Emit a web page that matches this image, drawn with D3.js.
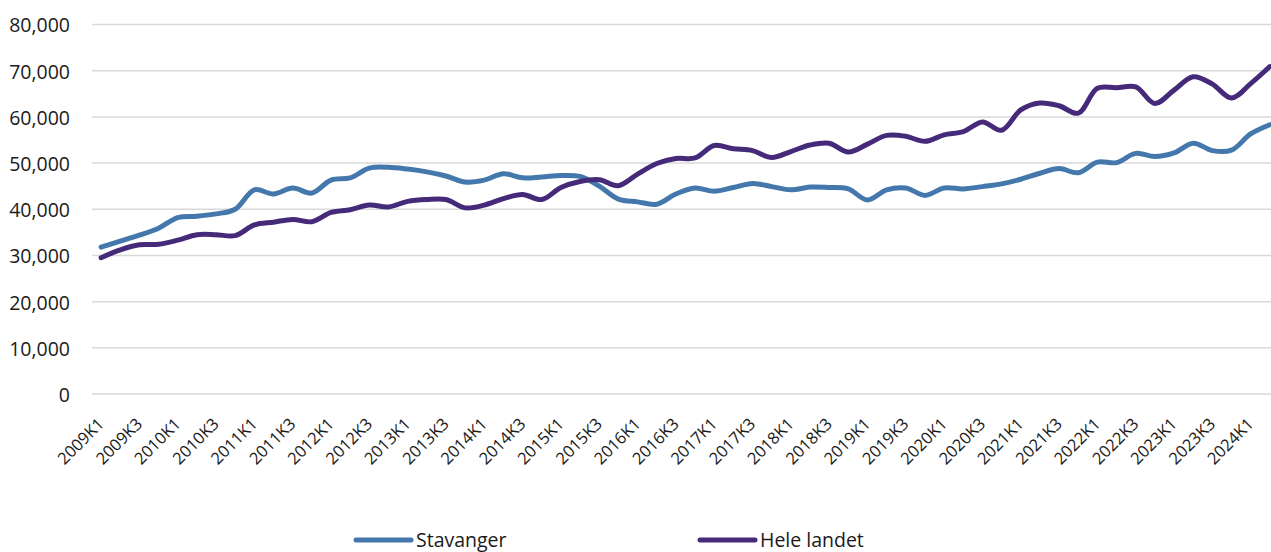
<!DOCTYPE html>
<html>
<head>
<meta charset="utf-8">
<script src="https://cdn.jsdelivr.net/npm/d3@7"></script>
<style>
  html, body { margin: 0; padding: 0; background: #fff; }
  svg { display: block; font-family: "Open Sans", "Noto Sans", sans-serif; }
</style>
</head>
<body>
<svg id="chart" width="1271" height="552"></svg>
<script>
// Quarters 2009K1 .. 2024K2
const quarters = [];
for (let y = 2009; y <= 2024; y++) {
  for (let q = 1; q <= 4; q++) {
    if (y === 2024 && q > 2) break;
    quarters.push(y + "K" + q);
  }
}

const stavanger = [
  31800, 33100, 34400, 35900, 38200, 38500, 39000, 40000,
  44200, 43300, 44600, 43500, 46300, 46800, 48900, 49100,
  48700, 48100, 47200, 45900, 46300, 47700, 46800, 47000,
  47300, 47100, 45000, 42200, 41600, 41100, 43300, 44600,
  43900, 44700, 45600, 44900, 44200, 44800, 44700, 44400,
  42000, 44200, 44600, 43000, 44600, 44400, 44900, 45500,
  46500, 47800, 48800, 47900, 50200, 50100, 52100, 51400,
  52200, 54300, 52700, 52800, 56300, 58300
];

const heleLandet = [
  29500, 31200, 32300, 32400, 33300, 34500, 34500, 34300,
  36600, 37200, 37800, 37300, 39300, 39900, 40900, 40500,
  41700, 42100, 42100, 40300, 40900, 42300, 43200, 42100,
  44700, 46000, 46400, 45100, 47600, 49900, 51000, 51100,
  53800, 53100, 52700, 51200, 52500, 53900, 54300, 52400,
  54100, 56000, 55800, 54700, 56100, 56800, 58900, 57100,
  61500, 63000, 62400, 60800, 66200, 66300, 66500, 62900,
  65800, 68700, 67100, 64100, 67200, 70900
];

const yTicks = [0, 10000, 20000, 30000, 40000, 50000, 60000, 70000, 80000];
const xTickLabels = quarters.filter(q => q.endsWith("K1") || q.endsWith("K3"));

const seriesNames = ["Stavanger", "Hele landet"];
const seriesColors = ["#4478AC", "#462A7A"];

const svg = d3.select("#chart");

const x = d3.scaleBand().domain(quarters).range([91.5, 1279.4]).padding(0);
const cx = q => x(q) + x.bandwidth() / 2;
const y = d3.scaleLinear().domain([0, 80000]).range([394, 24.5]);

// Horizontal gridlines
svg.append("g")
  .selectAll("line")
  .data(yTicks)
  .join("line")
  .attr("x1", 92)
  .attr("x2", 1280)
  .attr("y1", d => y(d))
  .attr("y2", d => y(d))
  .attr("stroke", "#d9d9d9")
  .attr("stroke-width", 1.5);

// Y axis labels
const fmt = d3.format(",");
const yAxis = svg.append("g")
  .attr("transform", "translate(70,0)")
  .call(d3.axisLeft(y).tickValues(yTicks).tickSize(0).tickPadding(0).tickFormat(fmt));
yAxis.select(".domain").remove();
yAxis.selectAll("text")
  .attr("font-size", 19.5)
  .attr("fill", "#1a1a1a")
  .attr("font-family", "Open Sans, Noto Sans, sans-serif")
  .attr("dy", "0.38em");

// X axis labels, rotated 45 degrees, text ending just right of each tick
const xAxis = svg.append("g")
  .attr("transform", "translate(0,394)")
  .call(d3.axisBottom(x).tickValues(xTickLabels).tickSize(0).tickPadding(0));
xAxis.select(".domain").remove();
xAxis.selectAll("text")
  .attr("font-size", 16.5)
  .attr("fill", "#1a1a1a")
  .attr("font-family", "Open Sans, Noto Sans, sans-serif")
  .attr("text-anchor", "end")
  .attr("y", 0)
  .attr("dy", 0)
  .attr("transform", "translate(4,31) rotate(-45)");

// Lines
const line = d3.line()
  .x((d, i) => cx(quarters[i]))
  .y(d => y(d))
  .curve(d3.curveCatmullRom.alpha(0.5));

[stavanger, heleLandet].forEach((vals, k) => {
  svg.append("path")
    .datum(vals)
    .attr("d", line)
    .attr("fill", "none")
    .attr("stroke", seriesColors[k])
    .attr("stroke-width", 5)
    .attr("stroke-linejoin", "round")
    .attr("stroke-linecap", "round");
});

// Legend
const legendX = [356, 700];
const legend = svg.append("g");
seriesNames.forEach((name, k) => {
  legend.append("line")
    .attr("x1", legendX[k]).attr("x2", legendX[k] + 55)
    .attr("y1", 540).attr("y2", 540)
    .attr("stroke", seriesColors[k])
    .attr("stroke-width", 5)
    .attr("stroke-linecap", "round");
  legend.append("text")
    .attr("x", legendX[k] + 60)
    .attr("y", 547)
    .attr("font-size", 19.5)
    .attr("fill", "#1a1a1a")
    .text(name);
});
</script>
</body>
</html>
